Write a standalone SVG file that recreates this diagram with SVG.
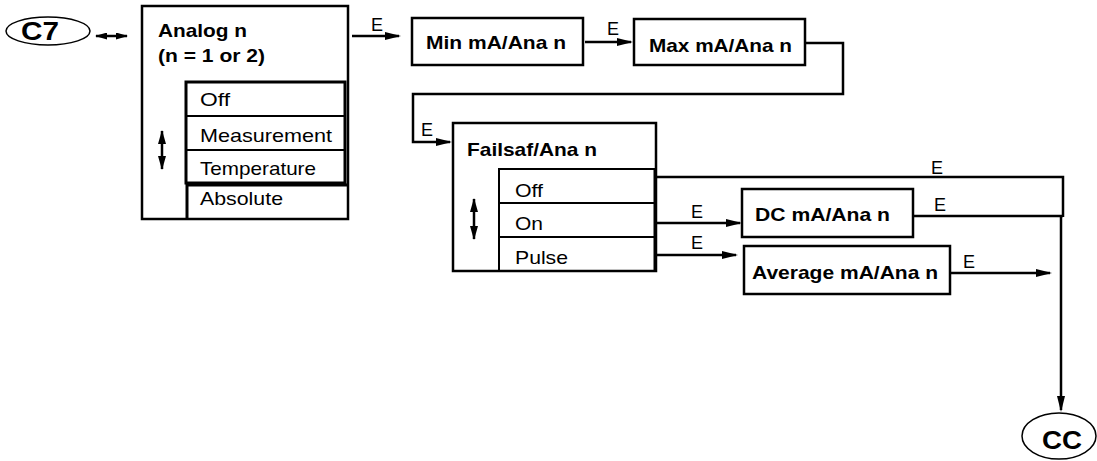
<svg xmlns="http://www.w3.org/2000/svg" width="1097" height="461" viewBox="0 0 1097 461">
<style>
.box{fill:#fff;stroke:#000;stroke-width:2.5}
.sep{fill:none;stroke:#000;stroke-width:2}
.thick{fill:none;stroke:#000;stroke-width:3}
.ell{fill:#fff;stroke:#000;stroke-width:1.5}
.con{fill:none;stroke:#000;stroke-width:2.5}
.b{font-family:"Liberation Sans",Arial,sans-serif;font-weight:bold;font-size:18.5px;fill:#000}
.r{font-family:"Liberation Sans",Arial,sans-serif;font-size:18.5px;fill:#000}
.e{font-family:"Liberation Sans",Arial,sans-serif;font-size:18px;fill:#000}
.big{font-family:"Liberation Sans",Arial,sans-serif;font-weight:bold;font-size:26px;fill:#000}
</style>
<defs>
<marker id="arr" viewBox="0 0 16 8" markerWidth="16" markerHeight="8" refX="14" refY="4" orient="auto" markerUnits="userSpaceOnUse"><path d="M0,0 L16,4 L0,8 z" fill="#000"/></marker>
<marker id="sm" viewBox="0 0 12 7" markerWidth="12" markerHeight="7" refX="11" refY="3.5" orient="auto-start-reverse" markerUnits="userSpaceOnUse"><path d="M0,0 L12,3.5 L0,7 z" fill="#000"/></marker>
<marker id="vs" viewBox="0 0 14 8" markerWidth="14" markerHeight="8" refX="13" refY="4" orient="auto-start-reverse" markerUnits="userSpaceOnUse"><path d="M0,0 L14,4 L0,8 z" fill="#000"/></marker>
</defs>

<g id="c7">
<ellipse class="ell" cx="48" cy="31" rx="42" ry="14"/>
<text class="big" x="40" y="40" text-anchor="middle" textLength="38" lengthAdjust="spacingAndGlyphs">C7</text>
</g>

<g id="analog">
<rect class="box" x="142" y="6" width="206" height="213"/>
<text class="b" x="158" y="37" textLength="89" lengthAdjust="spacingAndGlyphs">Analog n</text>
<text class="b" x="158" y="62" textLength="107" lengthAdjust="spacingAndGlyphs">(n = 1 or 2)</text>
<rect class="thick" x="186" y="82" width="159" height="101"/>
<line class="sep" x1="186" y1="116" x2="345" y2="116"/>
<line class="sep" x1="186" y1="150" x2="345" y2="150"/>
<line class="thick" x1="187" y1="185" x2="348" y2="185"/>
<line class="thick" x1="187" y1="183" x2="187" y2="219"/>
<text class="r" x="200" y="106" textLength="30" lengthAdjust="spacingAndGlyphs">Off</text>
<text class="r" x="200" y="142" textLength="132" lengthAdjust="spacingAndGlyphs">Measurement</text>
<text class="r" x="200" y="175" textLength="116" lengthAdjust="spacingAndGlyphs">Temperature</text>
<text class="r" x="200" y="205" textLength="83" lengthAdjust="spacingAndGlyphs">Absolute</text>
<line class="con" x1="162" y1="131" x2="162" y2="169" marker-start="url(#vs)" marker-end="url(#vs)"/>
</g>

<g id="min">
<rect class="box" x="412" y="18" width="171" height="47"/>
<text class="b" x="426" y="49" textLength="140" lengthAdjust="spacingAndGlyphs">Min mA/Ana n</text>
</g>

<g id="max">
<rect class="box" x="634" y="19" width="171" height="46"/>
<text class="b" x="649" y="52" textLength="143" lengthAdjust="spacingAndGlyphs">Max mA/Ana n</text>
</g>

<g id="failsafe">
<rect class="box" x="453" y="123" width="203" height="148"/>
<text class="b" x="467" y="156" textLength="130" lengthAdjust="spacingAndGlyphs">Failsaf/Ana n</text>
<rect class="sep" x="499" y="169" width="156" height="102"/>
<line class="sep" x1="499" y1="203" x2="655" y2="203"/>
<line class="sep" x1="499" y1="237" x2="655" y2="237"/>
<line class="thick" x1="655" y1="169" x2="655" y2="271"/>
<text class="r" x="515" y="197" textLength="28" lengthAdjust="spacingAndGlyphs">Off</text>
<text class="r" x="515" y="230" textLength="28" lengthAdjust="spacingAndGlyphs">On</text>
<text class="r" x="515" y="264" textLength="53" lengthAdjust="spacingAndGlyphs">Pulse</text>
<line class="con" x1="474" y1="199" x2="474" y2="239" marker-start="url(#vs)" marker-end="url(#vs)"/>
</g>

<g id="dc">
<rect class="box" x="742" y="189" width="171" height="48"/>
<text class="b" x="755" y="221" textLength="135" lengthAdjust="spacingAndGlyphs">DC mA/Ana n</text>
</g>

<g id="average">
<rect class="box" x="744" y="246" width="206" height="48"/>
<text class="b" x="752" y="279" textLength="186" lengthAdjust="spacingAndGlyphs">Average mA/Ana n</text>
</g>

<g id="cc">
<ellipse class="ell" cx="1059" cy="436" rx="37" ry="23"/>
<text class="big" x="1062" y="449" text-anchor="middle" textLength="40" lengthAdjust="spacingAndGlyphs">CC</text>
</g>

<g id="connectors">
<line class="con" x1="96" y1="36" x2="127" y2="36" marker-start="url(#sm)" marker-end="url(#sm)"/>
<path class="con" d="M352,36 H399" marker-end="url(#arr)"/>
<path class="con" d="M585,42 H631" marker-end="url(#arr)"/>
<path class="con" d="M805,43 H843 V94 H413 V142 H450" marker-end="url(#arr)"/>
<path class="con" d="M656,177 H1063 V217"/>
<path class="con" d="M656,223 H740" marker-end="url(#arr)"/>
<path class="con" d="M913,216 H1063"/>
<path class="con" d="M1061,216 V410" marker-end="url(#arr)"/>
<path class="con" d="M656,255 H736" marker-end="url(#arr)"/>
<path class="con" d="M950,273 H1050" marker-end="url(#arr)"/>
<text class="e" x="371" y="31">E</text>
<text class="e" x="607" y="35">E</text>
<text class="e" x="421" y="136">E</text>
<text class="e" x="931" y="174">E</text>
<text class="e" x="691" y="218">E</text>
<text class="e" x="691" y="249">E</text>
<text class="e" x="934" y="211">E</text>
<text class="e" x="963" y="268">E</text>
</g>
</svg>
